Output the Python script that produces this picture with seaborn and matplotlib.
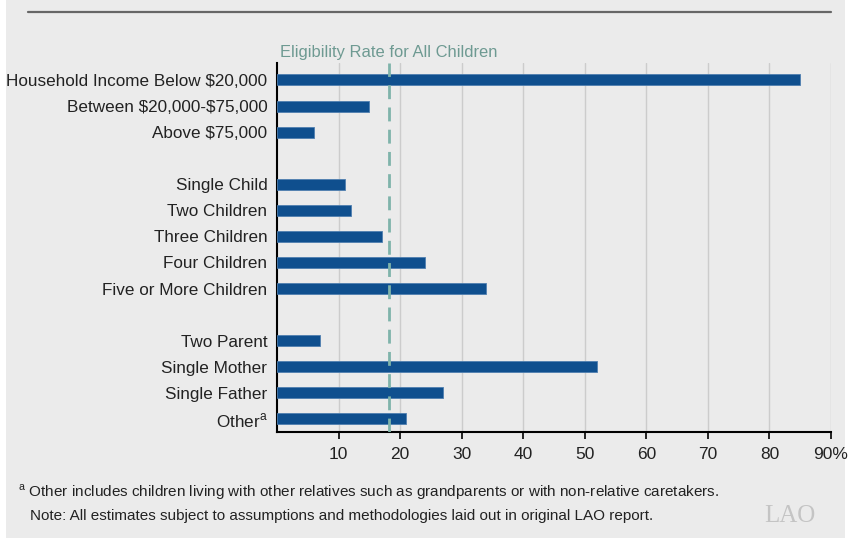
import matplotlib
matplotlib.use("Agg")
import matplotlib.pyplot as plt
import seaborn as sns
from matplotlib.patches import Rectangle

# Chart data
categories = ["Household Income Below \\$20,000", "Between \\$20,000-\\$75,000", "Above \\$75,000",
              "Single Child", "Two Children", "Three Children", "Four Children", "Five or More Children",
              "Two Parent", "Single Mother", "Single Father", "Other$^{\\mathrm{a}}$"]
rates = [85, 15, 6, 11, 12, 17, 24, 34, 7, 52, 27, 21]
rows = [0, 1, 2, 4, 5, 6, 7, 8, 10, 11, 12, 13]   # gaps separate the groups
all_children_rate = 18.2
x_ticks = [10, 20, 30, 40, 50, 60, 70, 80, 90]
x_tick_labels = ["10", "20", "30", "40", "50", "60", "70", "80", "90%"]

bg = "#ebebeb"
bar_color = "#0f4f8e"
ref_color = "#7fb3aa"

sns.set_theme(style="white")
plt.rcParams["font.family"] = ["Liberation Sans", "DejaVu Sans"]
plt.rcParams["mathtext.fontset"] = "custom"
plt.rcParams["mathtext.rm"] = "Liberation Sans"

fig = plt.figure(figsize=(8.51, 5.41), dpi=100, facecolor="white")
fig.patches.append(Rectangle((6 / 851, 3 / 541), 839 / 851, 538 / 541,
                             transform=fig.transFigure, facecolor=bg, edgecolor="none", zorder=-10))
ax = fig.add_axes([277 / 851, 109 / 541, 554 / 851, 369 / 541])
ax.set_facecolor(bg)

sns.barplot(x=rates, y=rows, orient="h", native_scale=True, color=bar_color,
            width=0.42, edgecolor="#4f7fb0", linewidth=0.6, saturation=1, ax=ax, zorder=3)

ax.set_xlim(0, 90)
ax.set_ylim(13.5, -0.65)
ax.set_yticks(rows)
ax.set_yticklabels(categories, fontsize=12.3, color="#222222")
ax.set_xticks(x_ticks)
ax.set_xticklabels(x_tick_labels, fontsize=12.5, color="#222222")
ax.tick_params(axis="x", direction="out", length=5, width=1.2, color="black", pad=6, bottom=True)
ax.tick_params(axis="y", length=0, pad=7)
ax.set_xlabel("")
ax.set_ylabel("")

ax.grid(axis="x", color="#cccccc", linewidth=1, zorder=0)
ax.set_axisbelow(True)
for side in ["top", "right"]:
    ax.spines[side].set_visible(False)
for side in ["left", "bottom"]:
    ax.spines[side].set_color("black")
    ax.spines[side].set_linewidth(1.5)

# reference line for all children
ax.axvline(all_children_rate, color=ref_color, linestyle=(0, (5, 3)), linewidth=2, zorder=4)
ax.text(all_children_rate, -0.75, "Eligibility Rate for All Children", ha="center", va="bottom",
        fontsize=11.9, color="#6e9a92")

# header rule
fig.add_artist(plt.Line2D([28 / 851, 831 / 851], [1 - 12 / 541, 1 - 12 / 541],
                          transform=fig.transFigure, color="#666666", linewidth=1.6))

# footnotes
fig.text(18 / 851, 1 - 492 / 541,
         "$^{\\mathrm{a}}$ Other includes children living with other relatives such as grandparents or with non-relative caretakers.",
         fontsize=11, color="#222222", va="center")
fig.text(30 / 851, 1 - 516 / 541,
         "Note: All estimates subject to assumptions and methodologies laid out in original LAO report.",
         fontsize=11, color="#222222", va="center")
fig.text(790 / 851, 1 - 516 / 541, "LAO", fontsize=18, color="#c4c4c4", ha="center", va="center",
         family="Liberation Serif")

fig.savefig("out.png", dpi=100, facecolor=fig.get_facecolor())
